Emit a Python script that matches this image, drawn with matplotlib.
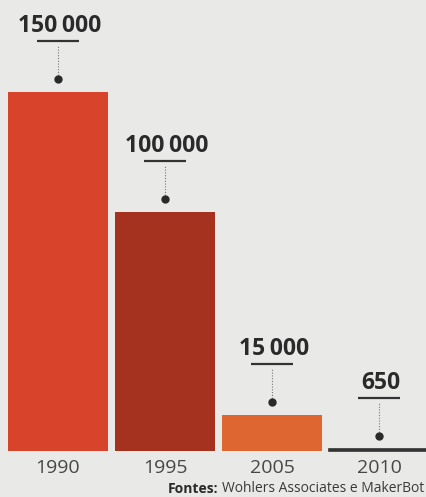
import matplotlib.pyplot as plt

years = ["1990", "1995", "2005", "2010"]
values = [150000, 100000, 15000, 650]
labels = ["150\u2009000", "100\u2009000", "15\u2009000", "650"]
colors = ["#d8432b", "#a5311f", "#de6630", "#333333"]

W, H = 427, 497
fig = plt.figure(figsize=(W / 100, H / 100), dpi=100)
fig.patch.set_facecolor("#e9e9e7")
ax = fig.add_axes([0, 0, 1, 1])
ax.set_facecolor("#e9e9e7")
ax.axis("off")

# pixel geometry of the original: bar centers 107px apart, baseline at y=451
px_x = 107.0
px_y = 359.0 / 150000
ax.set_xlim(-58 / px_x, (W - 58) / px_x)
ax.set_ylim(-(H - 451) / px_y, 451 / px_y)

xs = list(range(len(years)))
ax.bar(xs, values, width=0.935, color=colors, linewidth=0)
# the 2010 value is too small to see, draw it as a thick rule
ax.bar(xs[3], values[3], width=0.935, color=colors[3], edgecolor=colors[3], linewidth=1.2)

for x, v, lab in zip(xs, values, labels):
    ax.annotate(lab, (x, v), xytext=(2, 66), textcoords="offset pixels",
                ha="center", va="center", fontsize=16.5, fontweight="bold",
                family="Open Sans", color="#2a2a2a")
    # underline below the number
    y0 = v + 51 / px_y
    ax.plot([x - 0.2, x + 0.2], [y0, y0], color="#333333", lw=1.6, solid_capstyle="butt")
    ax.plot([x, x], [v + 14 / px_y, v + 47 / px_y], color="#777777", lw=0.8, ls=(0, (1, 1.5)))
    ax.plot([x], [v + 13 / px_y], "o", color="#2a2a2a", ms=5)

for x, yr in zip(xs, years):
    ax.text(x, -17 / px_y, yr, ha="center", va="center", fontsize=14,
            family="Open Sans", color="#474747")

src_bold = fig.text(168 / W, 1 - 489 / H, "Fontes:", ha="left", va="center", fontsize=10,
                    family="Open Sans", fontweight="bold", color="#2a2a2a")
fig.canvas.draw()
bb = src_bold.get_window_extent()
fig.text((bb.x1 + 4) / W, 1 - 489 / H, "Wohlers Associates e MakerBot", ha="left", va="center",
         fontsize=10, family="Open Sans", color="#3a3a3a")

fig.savefig("out.png", dpi=100, facecolor=fig.get_facecolor())
